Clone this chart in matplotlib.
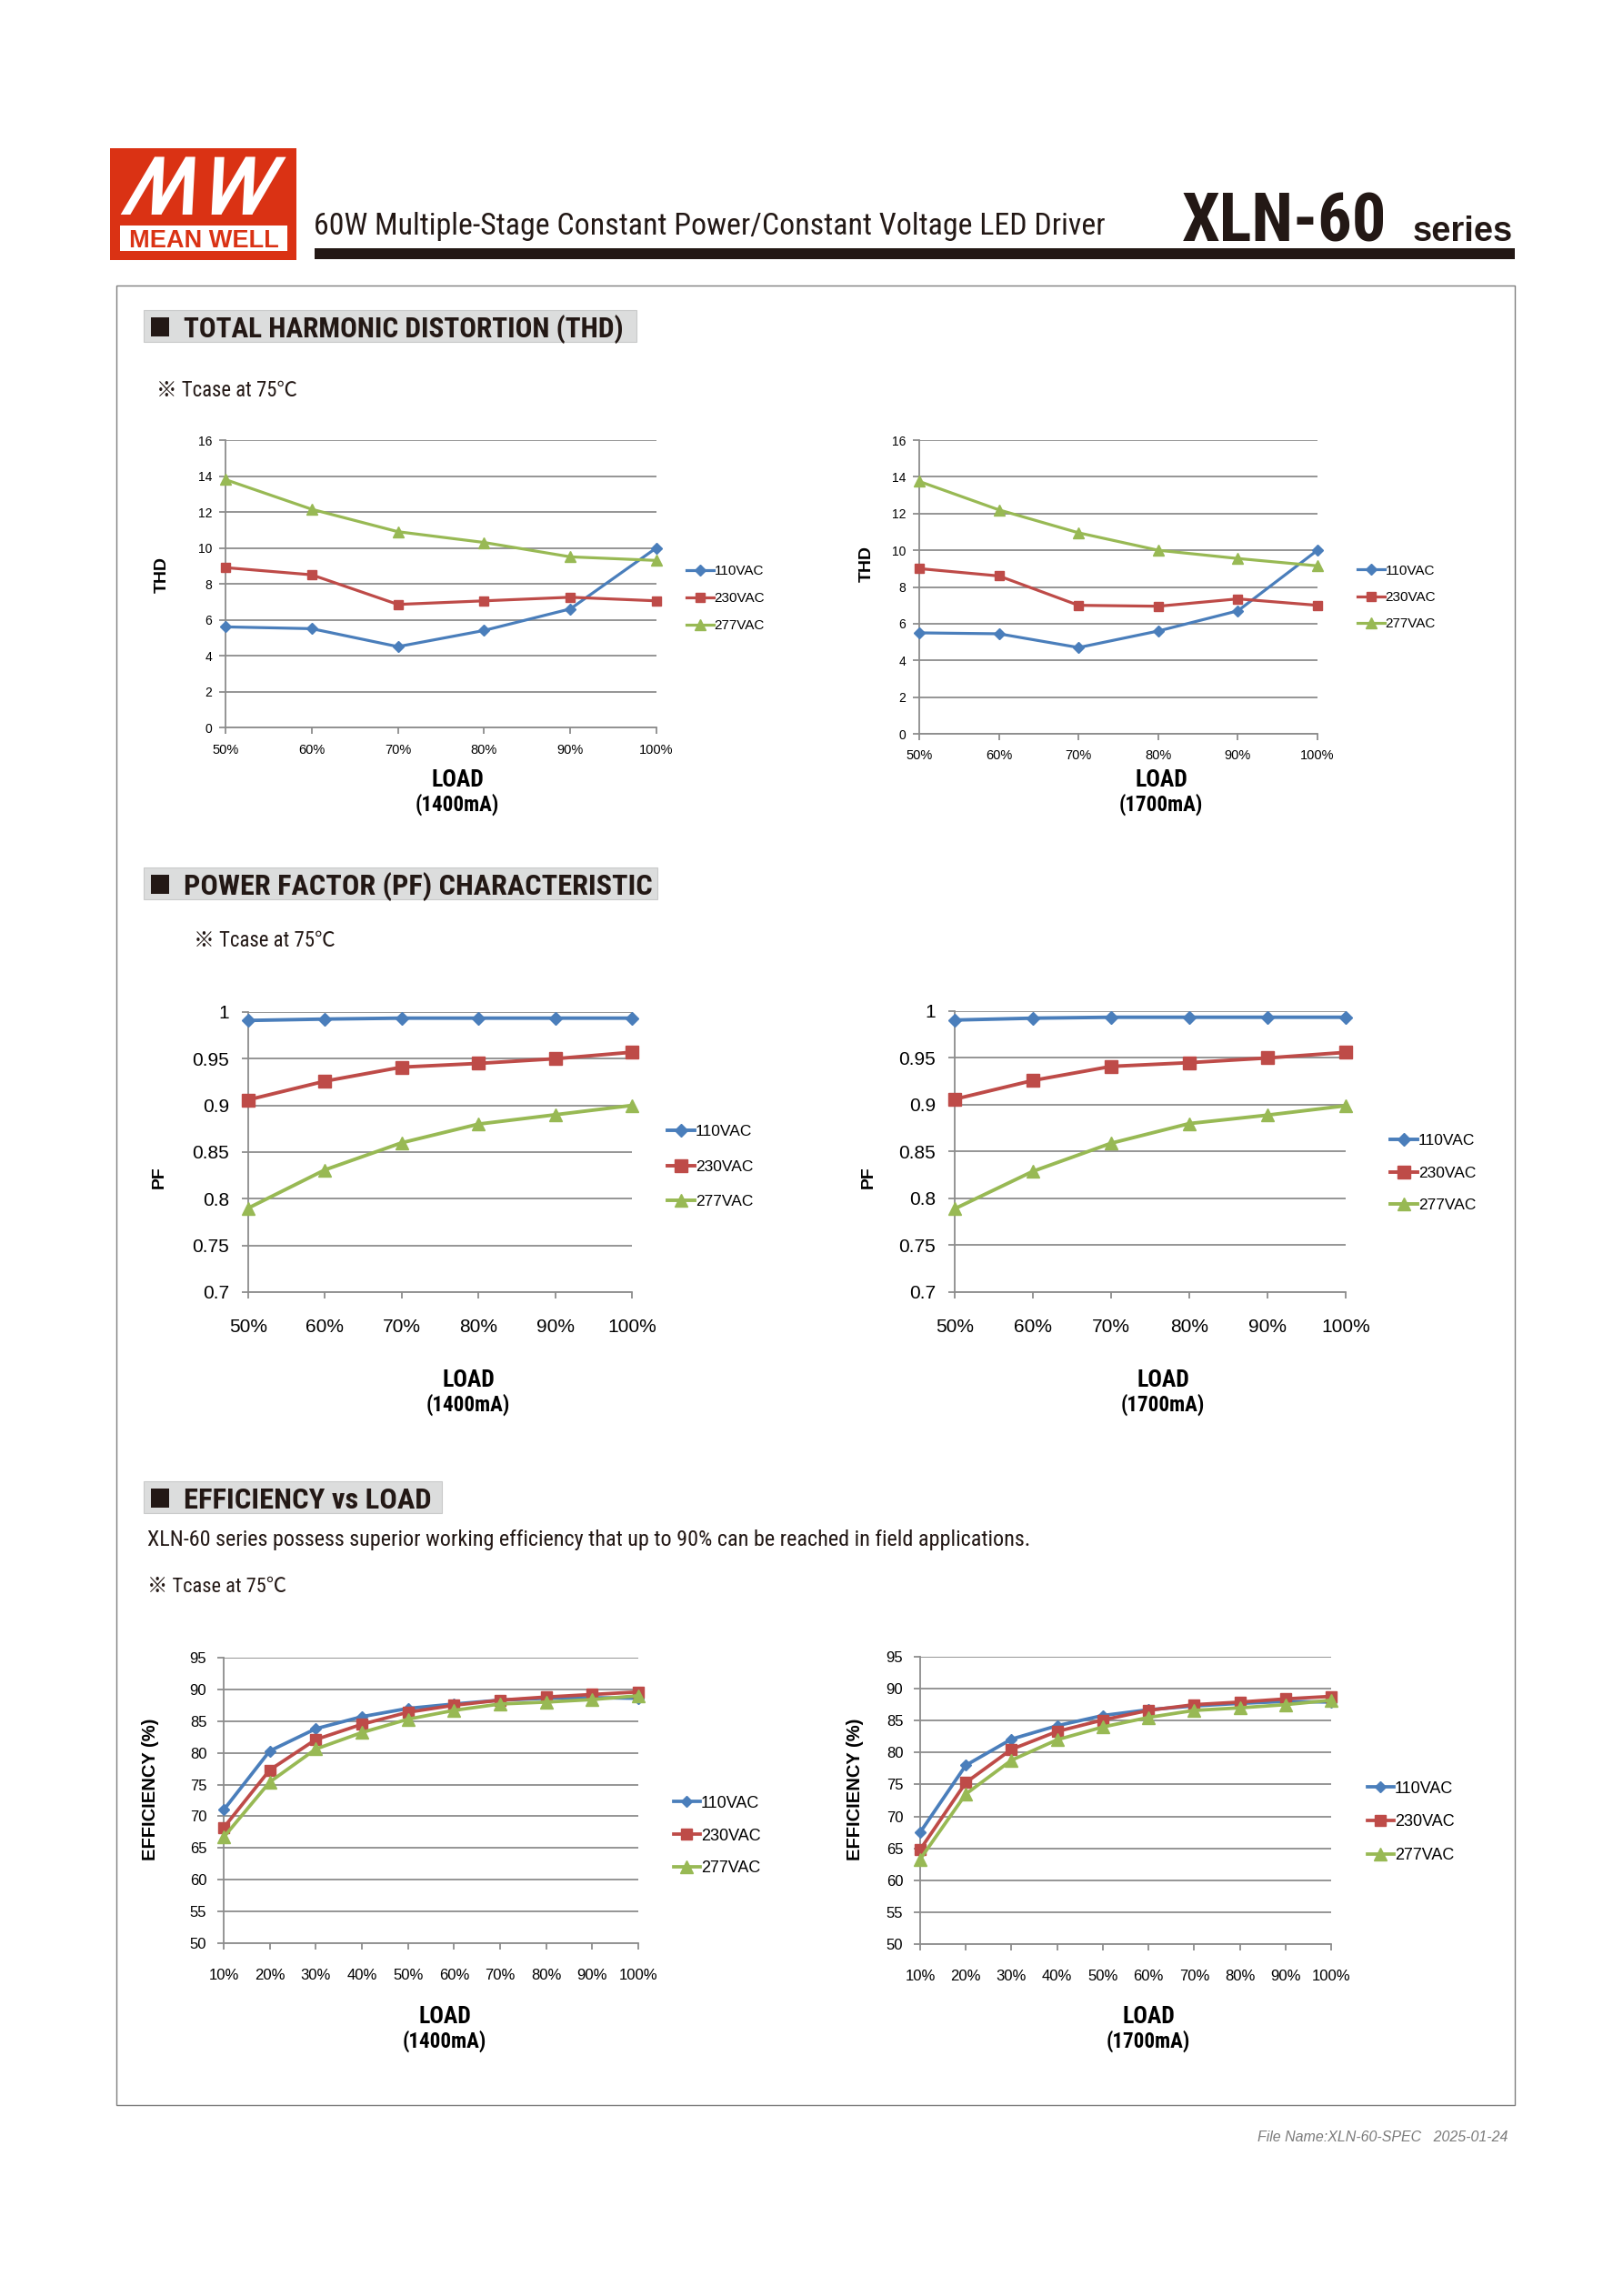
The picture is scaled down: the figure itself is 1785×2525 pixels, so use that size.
import numpy as np
import matplotlib
matplotlib.use("Agg")
import matplotlib.pyplot as plt
from matplotlib.patches import Rectangle, Polygon
from matplotlib import font_manager as fm

# ---------------- data ----------------
load_6 = ['50%', '60%', '70%', '80%', '90%', '100%']
load_10 = ['10%', '20%', '30%', '40%', '50%', '60%', '70%', '80%', '90%', '100%']
series_names = ['110VAC', '230VAC', '277VAC']

thd_1400_110 = [5.6, 5.5, 4.5, 5.4, 6.6, 10.0]
thd_1400_230 = [8.9, 8.5, 6.85, 7.05, 7.25, 7.05]
thd_1400_277 = [13.8, 12.15, 10.9, 10.3, 9.5, 9.3]

thd_1700_110 = [5.5, 5.45, 4.7, 5.6, 6.7, 10.0]
thd_1700_230 = [9.0, 8.6, 7.0, 6.95, 7.35, 7.0]
thd_1700_277 = [13.75, 12.2, 10.95, 10.0, 9.55, 9.15]

pf_1400_110 = [0.991, 0.9925, 0.9935, 0.9935, 0.9935, 0.9935]
pf_1400_230 = [0.906, 0.926, 0.941, 0.945, 0.950, 0.957]
pf_1400_277 = [0.790, 0.831, 0.860, 0.880, 0.890, 0.900]

pf_1700_110 = [0.9905, 0.9925, 0.9935, 0.9935, 0.9935, 0.9935]
pf_1700_230 = [0.906, 0.926, 0.941, 0.945, 0.950, 0.956]
pf_1700_277 = [0.789, 0.829, 0.859, 0.880, 0.889, 0.899]

eff_1400_110 = [71.0, 80.3, 83.8, 85.7, 87.0, 87.7, 88.3, 88.6, 88.7, 88.6]
eff_1400_230 = [68.2, 77.3, 82.1, 84.5, 86.4, 87.5, 88.3, 88.8, 89.2, 89.6]
eff_1400_277 = [66.7, 75.4, 80.6, 83.2, 85.3, 86.7, 87.7, 88.0, 88.4, 89.0]

eff_1700_110 = [67.5, 78.0, 82.1, 84.2, 85.8, 86.7, 87.3, 87.7, 88.0, 87.9]
eff_1700_230 = [64.8, 75.3, 80.5, 83.3, 85.1, 86.6, 87.5, 87.9, 88.4, 88.8]
eff_1700_277 = [63.3, 73.5, 78.8, 82.0, 84.0, 85.5, 86.6, 87.0, 87.5, 88.2]

thd_yticks = [0, 2, 4, 6, 8, 10, 12, 14, 16]
pf_yticks = [0.7, 0.75, 0.8, 0.85, 0.9, 0.95, 1.0]
pf_ytick_labels = ['0.7', '0.75', '0.8', '0.85', '0.9', '0.95', '1']
eff_yticks = [50, 55, 60, 65, 70, 75, 80, 85, 90, 95]

# ---------------- fonts ----------------
def pick_condensed():
    entries = fm.fontManager.ttflist
    names = {e.name for e in entries}
    for n in ['Liberation Sans Narrow', 'Arial Narrow', 'Roboto Condensed',
              'Open Sans Condensed', 'Noto Sans Condensed', 'DejaVu Sans Condensed']:
        if n in names:
            return n, 'normal'
    for pref in ['Noto Sans', 'DejaVu Sans', 'Roboto', 'Open Sans']:
        for e in entries:
            if e.name == pref and str(e.stretch) in ('condensed', 'semi-condensed',
                                                     'extra-condensed', '300', '400', '200'):
                return pref, e.stretch
    for e in entries:
        if 'Narrow' in e.name or 'Condensed' in e.name:
            return e.name, 'normal'
    return 'Liberation Sans', 'normal'


COND_NAME, COND_STRETCH = pick_condensed()
NARROW = [COND_NAME, 'Liberation Sans', 'DejaVu Sans']
SANS = ['Liberation Sans', 'DejaVu Sans']
TCASE = [COND_NAME, 'Noto Sans CJK SC', 'DejaVu Sans']

# ---------------- style ----------------
colors = ['#4A7EBB', '#BE4B48', '#98B954']
markers = ['D', 's', '^']
GRID = '#8C8C8C'
DARK = '#231815'
RED = '#DA3214'

W, H = 1785, 2525
fig = plt.figure(figsize=(W / 100, H / 100), dpi=100)
fig.patch.set_facecolor('white')
renderer = fig.canvas.get_renderer()


def txt(x, y, s, size, family=SANS, weight='normal', ha='left', va='baseline',
        color='#000000', rotation=0, style='normal'):
    stretch = COND_STRETCH if family in (NARROW, TCASE) else 'normal'
    return fig.text(x / W, 1 - y / H, s, fontsize=size, family=family,
                    fontweight=weight, ha=ha, va=va, color=color,
                    rotation=rotation, fontstyle=style, fontstretch=stretch)


def fit(x, y, s, width, **kw):
    t = txt(x, y, s, 20, **kw)
    w = t.get_window_extent(renderer).width
    t.set_fontsize(20 * width / w)
    return t


def rect(x0, y0, x1, y1, fc, ec='none', lw=0, z=0):
    fig.add_artist(Rectangle((x0 / W, 1 - y1 / H), (x1 - x0) / W, (y1 - y0) / H,
                             transform=fig.transFigure, facecolor=fc,
                             edgecolor=ec, lw=lw, zorder=z))


# ---------------- header ----------------
rect(121, 163, 326, 286, RED)
rect(132, 248, 316, 276, 'white', z=1)
fit(224, 272, 'MEAN WELL', 164, family=SANS, weight='bold', ha='center', color=RED)
strokes = [(68, 100, 180, 212), (170, 202, 180, 212), (170, 202, 282, 314),
           (272, 304, 282, 314), (368, 400, 378, 410), (368, 400, 480, 512),
           (470, 502, 480, 512), (470, 502, 582, 614)]
for b0, b1, t0, t1 in strokes:
    pts = [(b0, 258), (b1, 258), (t1, 68), (t0, 68)]
    pts = [((110 + px / 3) / W, 1 - (150 + py / 3) / H) for px, py in pts]
    fig.add_artist(Polygon(pts, closed=True, transform=fig.transFigure,
                           facecolor='white', edgecolor='none', zorder=2))

fit(345, 258, '60W Multiple-Stage Constant Power/Constant Voltage LED Driver', 868,
    family=NARROW, color=DARK)
fit(1300, 265, 'XLN-60', 226, family=NARROW, weight='bold', color=DARK)
fit(1554, 265, 'series', 110, family=SANS, weight='bold', color=DARK)
rect(346, 273, 1666, 285, DARK)

# page frame
rect(128, 314, 1666, 2315, 'none', ec='#7F7F7F', lw=1.0)


def section(x0, x1, y0, y1, text, tx1):
    rect(x0, y0, x1, y1, '#DCDDDD', ec='#C9CACA', lw=0.8)
    rect(x0 + 8, y0 + 8, x0 + 28, y1 - 6, DARK, z=1)
    fit(x0 + 44, y1 - 5, text, tx1 - (x0 + 44), family=NARROW, weight='bold', color=DARK)


section(158, 700, 341, 376, 'TOTAL HARMONIC DISTORTION (THD)', 687)
section(158, 723, 954, 989, 'POWER FACTOR (PF) CHARACTERISTIC', 716)
section(158, 486, 1629, 1664, 'EFFICIENCY vs LOAD', 474)

fit(172, 436, '\u203b Tcase at 75\u2103', 155, family=TCASE, color=DARK)
fit(213, 1041, '\u203b Tcase at 75\u2103', 156, family=TCASE, color=DARK)
fit(162, 1700, 'XLN-60 series possess superior working efficiency that up to 90% can be reached in field applications.',
    971, family=NARROW, color=DARK)
fit(162, 1751, '\u203b Tcase at 75\u2103', 153, family=TCASE, color=DARK)

fit(1658, 2355, 'File Name:XLN-60-SPEC   2025-01-24', 276, family=SANS,
    style='italic', color='#7B7B7B', ha='right')


# ---------------- charts ----------------
def chart(x0, x1, ytop, ybot, xlabels, ys, ylim, yticks, yticklabels,
          ytick_fs, xtick_fs, ypad, xpad, lw, ms, leg_x, leg_y, leg_fs,
          leg_hl, leg_sp, ylab, ylab_x, ylab_y, ylab_fs, load_x, load_y, cur):
    ax = fig.add_axes([x0 / W, 1 - ybot / H, (x1 - x0) / W, (ybot - ytop) / H])
    x = np.arange(len(xlabels))
    handles = []
    for vals, c, m, msz in zip(ys, colors, markers, ms):
        h, = ax.plot(x, vals, color=c, lw=lw, marker=m, markersize=msz,
                     markerfacecolor=c, markeredgecolor=c, clip_on=False, zorder=3)
        handles.append(h)
    ax.set_xlim(0, len(xlabels) - 1)
    ax.set_ylim(*ylim)
    ax.set_yticks(yticks)
    ax.set_yticklabels(yticklabels, family=SANS, fontsize=ytick_fs)
    ax.set_xticks(x)
    ax.set_xticklabels(xlabels, family=SANS, fontsize=xtick_fs)
    for s in ['top', 'right']:
        ax.spines[s].set_visible(False)
    for s in ['left', 'bottom']:
        ax.spines[s].set_color(GRID)
        ax.spines[s].set_linewidth(1.3)
    ax.grid(axis='y', color=GRID, lw=1.3)
    ax.set_axisbelow(True)
    ax.tick_params(axis='y', direction='out', length=5, width=1.3, color=GRID, pad=ypad)
    ax.tick_params(axis='x', direction='out', length=5, width=1.3, color=GRID, pad=xpad)
    ax.patch.set_alpha(0)
    ax.legend(handles, series_names, loc='center left',
              bbox_to_anchor=(leg_x / W, 1 - leg_y / H), bbox_transform=fig.transFigure,
              frameon=False, handlelength=leg_hl, handletextpad=0.05,
              labelspacing=leg_sp, borderpad=0, borderaxespad=0,
              prop={'family': SANS, 'size': leg_fs}, numpoints=1)
    txt(ylab_x, ylab_y, ylab, ylab_fs, family=SANS, weight='bold', ha='center',
        va='center', rotation=90)
    fit(load_x - 29, load_y + 8, 'LOAD', 58, family=NARROW, weight='bold')
    fit(load_x - 46, load_y + 35, cur, 92, family=NARROW, weight='bold')
    return ax


# THD
chart(248, 722, 484, 800, load_6, [thd_1400_110, thd_1400_230, thd_1400_277],
      (0, 16), thd_yticks, [str(v) for v in thd_yticks], 10, 10.5, 5.5, 8,
      2.3, [6.0, 7.0, 8.5], 755, 658, 11, 1.96, 1.05,
      'THD', 178, 632, 14, 503, 857, '(1400mA)')
chart(1011, 1449, 484, 807, load_6, [thd_1700_110, thd_1700_230, thd_1700_277],
      (0, 16), thd_yticks, [str(v) for v in thd_yticks], 10, 10.5, 5.5, 7,
      2.3, [6.0, 7.0, 8.5], 1493, 657, 11, 1.96, 1.0,
      'THD', 953, 620, 14, 1277, 857, '(1700mA)')

# PF
chart(273, 695, 1113, 1421, load_6, [pf_1400_110, pf_1400_230, pf_1400_277],
      (0.7, 1.0), pf_yticks, pf_ytick_labels, 15, 15, 10, 16,
      2.8, [7.0, 9.5, 10.0], 734, 1283, 12.5, 1.72, 1.35,
      'PF', 175, 1295, 14, 515, 1517, '(1400mA)')
chart(1050, 1480, 1112, 1421, load_6, [pf_1700_110, pf_1700_230, pf_1700_277],
      (0.7, 1.0), pf_yticks, pf_ytick_labels, 15, 15, 10, 16,
      2.8, [7.0, 9.5, 10.0], 1529, 1290, 12.5, 1.72, 1.15,
      'PF', 955, 1295, 14, 1279, 1517, '(1700mA)')

# Efficiency
chart(246, 702, 1823, 2137, load_10, [eff_1400_110, eff_1400_230, eff_1400_277],
      (50, 95), eff_yticks, [str(v) for v in eff_yticks], 12, 12, 8.5, 15.5,
      2.7, [6.5, 9.0, 9.5], 741, 2019, 13, 1.6, 1.05,
      'EFFICIENCY (%)', 165, 1968, 14.5, 489, 2217, '(1400mA)')
chart(1012, 1464, 1822, 2138, load_10, [eff_1700_110, eff_1700_230, eff_1700_277],
      (50, 95), eff_yticks, [str(v) for v in eff_yticks], 12, 12, 8.5, 15.5,
      2.7, [6.5, 9.0, 9.5], 1504, 2004, 13, 1.6, 1.1,
      'EFFICIENCY (%)', 940, 1968, 14.5, 1263, 2217, '(1700mA)')

fig.savefig('out.png', dpi=100, facecolor='white')
